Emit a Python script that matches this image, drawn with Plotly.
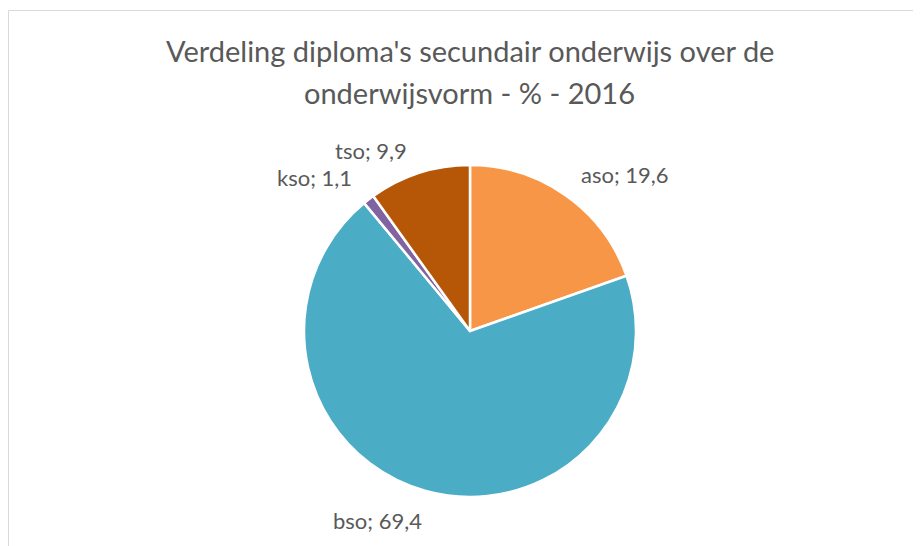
import plotly.graph_objects as go

# ---- data ----
categories = ["aso", "bso", "kso", "tso"]
values = [19.6, 69.4, 1.1, 9.9]
colors = ["#F79646", "#4BACC6", "#8064A2", "#B65708"]
title_lines = ["Verdeling diploma's secundair onderwijs over de", "onderwijsvorm - % - 2016"]

# ---- layout (pixels in the browser window) ----
OFF = 8                      # default page body margin
W, H = 921 - OFF, 546 - OFF  # figure size
CX, CY, R = 470, 331, 166    # pie centre / radius (window px)
LABEL_POS = [(625, 175), (377, 520), (314, 177), (371, 150)]
TITLE_Y = [50, 92]
TITLE_X = 470

FONT = "Lato"
TXT = "#595959"


def px(x):
    return (x - OFF) / W


def py(y):
    return 1 - (y - OFF) / H


fig = go.Figure()
fig.add_trace(go.Pie(
    labels=categories,
    values=values,
    marker=dict(colors=colors, line=dict(color="white", width=2.5)),
    sort=False,
    direction="clockwise",
    rotation=0,
    textinfo="none",
    hoverinfo="label+value",
    showlegend=False,
    domain=dict(x=[px(CX - R), px(CX + R)], y=[py(CY + R), py(CY - R)]),
))


def fmt(v):
    return f"{v:.1f}".replace(".", ",")


annotations = []
for cat, v, (lx, ly) in zip(categories, values, LABEL_POS):
    annotations.append(dict(
        x=px(lx), y=py(ly), xref="paper", yref="paper",
        text=f"{cat}; {fmt(v)}", showarrow=False,
        xanchor="center", yanchor="middle",
        font=dict(family=FONT, size=22, color=TXT),
    ))
for line, ty in zip(title_lines, TITLE_Y):
    annotations.append(dict(
        x=px(TITLE_X), y=py(ty), xref="paper", yref="paper",
        text=line, showarrow=False, xanchor="center", yanchor="middle",
        font=dict(family=FONT, size=29, color=TXT),
    ))

fig.update_layout(
    width=W, height=H,
    margin=dict(l=0, r=0, t=0, b=0),
    paper_bgcolor="white", plot_bgcolor="white",
    annotations=annotations,
    shapes=[
        dict(type="line", xref="paper", yref="paper", x0=px(8.5), x1=1, y0=py(10.5), y1=py(10.5),
             line=dict(color="#D9D9D9", width=1)),
        dict(type="line", xref="paper", yref="paper", x0=px(8.5), x1=px(8.5), y0=0, y1=py(10.5),
             line=dict(color="#D9D9D9", width=1)),
    ],
)

fig.write_html("out.html")
